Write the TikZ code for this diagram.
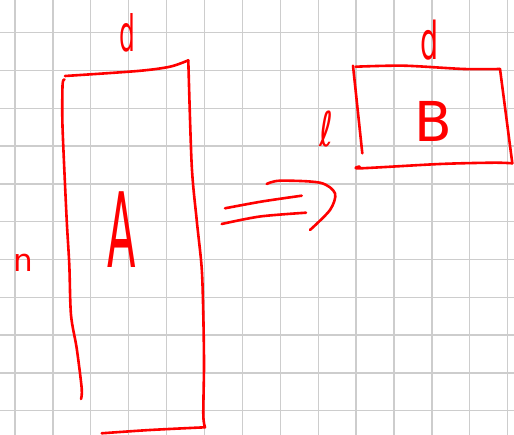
\documentclass[tikz,border=0pt]{standalone}
\usepackage{fontspec}
\setmainfont{DejaVu Sans}
\usetikzlibrary{calc}
\definecolor{penRed}{HTML}{FF0000}
\definecolor{gridGray}{HTML}{CDCDCD}

\tikzset{
    pen/.style={penRed,line width=2.6pt,line cap=round,line join=round},
    letter/.style={text=penRed,inner sep=0pt,anchor=base}
}

\begin{document}
\begin{tikzpicture}[x=1pt,y=-1pt]
    % Paper
    \fill[white] (0,0) rectangle (514,435);
    \useasboundingbox (0,0) rectangle (514,435);
    \foreach \i in {0,...,13}{
        \draw[gridGray,line width=1.3pt] ({15+37.9*\i},0) -- ({15+37.9*\i},435);
    }
    \foreach \j in {0,...,10}{
        \draw[gridGray,line width=1.3pt] (0,{32.7+37.8*\j}) -- (514,{32.7+37.8*\j});
    }

    % Tall matrix A
    \draw[pen] plot[smooth] coordinates {(65,76) (137.7,71) (170,66.7) (188.3,60.3)};
    \draw[pen] plot[smooth] coordinates {(188.3,60.3) (191.7,165) (196.7,220) (201.7,268)
        (203.3,315) (204,365) (203.3,415) (205,427.3)};
    \draw[pen] plot[smooth] coordinates {(205,427.3) (150,430) (101.7,433.3)};
    \draw[pen] plot[smooth] coordinates {(64.5,79.5) (62.6,84) (62.3,116.7) (63.3,146.7)
        (66.7,220) (69.3,265) (71,315) (76.7,348.3) (81.7,388.3) (81,399)};
    \node[letter,font=\fontsize{50}{50}\selectfont] (dA) at (127,52) {\scalebox{0.5}[1]{d}};
    \node[letter,font=\fontsize{31}{31}\selectfont] (n) at (23,272) {n};
    \node[letter,font=\fontsize{104}{104}\selectfont] (A) at (122,268) {\scalebox{0.4}[1]{A}};

    % Arrow
    \draw[pen] plot[smooth] coordinates {(225,208.3) (262,201.5) (301.7,195.7)};
    \draw[pen] plot[smooth] coordinates {(221.7,224) (260,216.5) (306,212.7)};
    \draw[pen] plot[smooth] coordinates {(266.7,184) (280,180.7) (320,182.7) (335,193.3)
        (330,210) (310,230)};

    % Small matrix B
    \draw[pen] plot[smooth] coordinates {(355.7,66.7) (404,65.7) (464,69) (500,69)};
    \draw[pen] (500,69) -- (512.3,163.3);
    \draw[pen] plot[smooth] coordinates {(512.3,163.3) (493.3,162.7) (440,164) (360.7,168.3) (359.5,166.5)};
    \draw[pen] (353,65.7) -- (362.3,153.3);
    \node[letter,font=\fontsize{52}{52}\selectfont] (dB) at (430,60) {\scalebox{0.55}[1]{d}};
    \node[letter,font=\fontsize{48}{48}\selectfont] (l) at (326,147) {\scalebox{0.7}[1]{ℓ}};
    \node[letter,font=\fontsize{55}{55}\selectfont] (B) at (433,142) {B};
\end{tikzpicture}
\end{document}
